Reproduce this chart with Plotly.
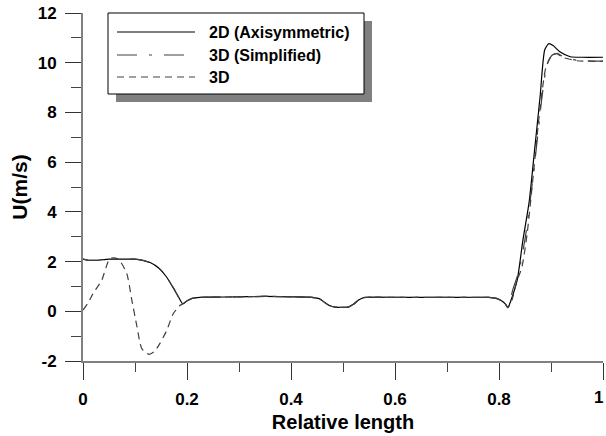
import plotly.graph_objects as go

# ---------------- data ----------------
x_2d = [0, 0.01, 0.025, 0.05, 0.08, 0.1, 0.115, 0.13, 0.145, 0.16, 0.172, 0.183, 0.192,
        0.2, 0.21, 0.225, 0.25, 0.3, 0.35, 0.4, 0.44, 0.455, 0.465, 0.475, 0.485, 0.51,
        0.52, 0.53, 0.54, 0.6, 0.7, 0.78, 0.795, 0.805, 0.812, 0.817, 0.825, 0.835,
        0.846, 0.858, 0.868, 0.879, 0.888, 0.896, 0.904, 0.917, 0.937, 0.96, 1.0]
y_2d = [2.1, 2.05, 2.05, 2.1, 2.1, 2.1, 2.05, 1.95, 1.75, 1.4, 1.0, 0.6, 0.3,
        0.42, 0.52, 0.56, 0.57, 0.58, 0.6, 0.58, 0.56, 0.5, 0.35, 0.22, 0.17, 0.17,
        0.28, 0.45, 0.55, 0.56, 0.56, 0.56, 0.52, 0.42, 0.3, 0.15, 0.56, 1.25,
        2.86, 4.4, 6.4, 8.63, 10.52, 10.77, 10.69, 10.44, 10.24, 10.22, 10.22]

x_3ds = [0, 0.01, 0.025, 0.05, 0.08, 0.1, 0.115, 0.13, 0.145, 0.16, 0.172, 0.183, 0.192,
         0.2, 0.21, 0.225, 0.25, 0.3, 0.35, 0.4, 0.44, 0.455, 0.465, 0.475, 0.485, 0.51,
         0.52, 0.53, 0.54, 0.6, 0.7, 0.78, 0.795, 0.805, 0.812, 0.817, 0.827, 0.838,
         0.85, 0.862, 0.872, 0.882, 0.892, 0.902, 0.912, 0.925, 0.95, 1.0]
y_3ds = [2.1, 2.05, 2.05, 2.1, 2.1, 2.1, 2.05, 1.95, 1.75, 1.4, 1.0, 0.6, 0.3,
         0.42, 0.52, 0.56, 0.57, 0.58, 0.6, 0.58, 0.56, 0.5, 0.35, 0.22, 0.17, 0.17,
         0.28, 0.45, 0.55, 0.56, 0.56, 0.56, 0.52, 0.42, 0.3, 0.15, 0.9, 1.6,
         2.9, 4.8, 6.6, 8.5, 9.9, 10.3, 10.38, 10.22, 10.1, 10.06]

x_3d = [0, 0.01, 0.019, 0.036, 0.052, 0.068, 0.084, 0.094, 0.104, 0.113, 0.127, 0.138,
        0.148, 0.161, 0.174, 0.187, 0.192, 0.2, 0.21, 0.225, 0.25, 0.3, 0.35, 0.4, 0.44,
        0.455, 0.465, 0.475, 0.485, 0.51, 0.52, 0.53, 0.54, 0.6, 0.7, 0.78, 0.795,
        0.805, 0.812, 0.817, 0.825, 0.833, 0.844, 0.854, 0.866, 0.878, 0.89, 0.9,
        0.91, 0.925, 0.95, 1.0]
y_3d = [0.05, 0.35, 0.7, 1.25, 2.13, 2.1, 1.53, 0.44, -0.64, -1.5, -1.73, -1.6,
        -1.29, -0.77, -0.08, 0.24, 0.3, 0.42, 0.52, 0.56, 0.57, 0.58, 0.6, 0.58, 0.56,
        0.5, 0.35, 0.22, 0.17, 0.17, 0.28, 0.45, 0.55, 0.56, 0.56, 0.56, 0.52,
        0.42, 0.3, 0.15, 0.45, 1.13, 1.77, 3.1, 5.5, 8.0, 9.8, 10.25,
        10.36, 10.2, 10.08, 10.05]

series_names = ["2D (Axisymmetric)", "3D (Simplified)", "3D"]
series_dash = ["solid", "20px,12px,3px,12px", "7px,5px"]
series_color = ["#000000", "#404040", "#404040"]

x_ticks = [0, 0.2, 0.4, 0.6, 0.8, 1]
x_ticklabels = ["0", "0.2", "0.4", "0.6", "0.8", "1"]
y_ticks = [-2, 0, 2, 4, 6, 8, 10, 12]
y_ticklabels = ["-2", "0", "2", "4", "6", "8", "10", "12"]

# ---------------- layout helpers ----------------
W, H = 606, 436
PL, PR, PT, PB = 83, 603, 13, 361   # plot-area edges in page pixels
ML, MT = PL, PT
MR = W - PR
MB = H - PB
PW, PH = PR - PL, PB - PT


def px(xp):
    return (xp - PL) / PW


def py(yp):
    return (PB - yp) / PH


FONT = "Liberation Sans, Arial, sans-serif"
TICKFONT = dict(family=FONT, size=17, color="black", weight="bold")

fig = go.Figure()
for xs, ys, name, dash, col in zip([x_2d, x_3ds, x_3d], [y_2d, y_3ds, y_3d],
                                   series_names, series_dash, series_color):
    fig.add_trace(go.Scatter(x=xs, y=ys, mode="lines", name=name,
                             line=dict(color=col, width=1.2, dash=dash, shape="spline",
                                       smoothing=0.6),
                             showlegend=False))

axis_common = dict(showline=True, linecolor="#808080", linewidth=2, showgrid=False,
                   zeroline=False, ticks="outside", tickcolor="#333333", tickwidth=1.3,
                   tickfont=TICKFONT, mirror=False, automargin=False,
                   ticklabeloverflow="allow")

# last x tick label is drawn as an annotation so it stays inside the page edge
fig.update_xaxes(range=[0, 1], tickvals=x_ticks, ticktext=x_ticklabels[:-1] + [""],
                 ticklen=17, ticklabelstandoff=5,
                 minor=dict(dtick=0.1, ticklen=9, ticks="outside", tickcolor="#444444",
                            tickwidth=1.2),
                 title=dict(text="Relative length", standoff=7,
                            font=dict(family=FONT, size=20, color="black", weight="bold")),
                 **axis_common)
fig.update_yaxes(range=[-2, 12], tickvals=y_ticks, ticktext=y_ticklabels, ticklen=16,
                 ticklabelstandoff=5,
                 minor=dict(dtick=1, ticklen=10, ticks="outside", tickcolor="#444444",
                            tickwidth=1.2),
                 title=dict(text="U(m/s)", standoff=4,
                            font=dict(family=FONT, size=21, color="black", weight="bold")),
                 **axis_common)

# ---------------- manual legend ----------------
shapes = []
shapes.append(dict(type="rect", xref="paper", yref="paper", x0=px(116), x1=px(372),
                   y0=py(102), y1=py(21), fillcolor="#808080", line=dict(width=0),
                   layer="above"))
shapes.append(dict(type="rect", xref="paper", yref="paper", x0=px(108), x1=px(364),
                   y0=py(94), y1=py(13), fillcolor="white",
                   line=dict(color="black", width=1), layer="above"))
rows = [32, 55, 77]
annotations = []
for r, name, dash, col in zip(rows, series_names, series_dash, series_color):
    shapes.append(dict(type="line", xref="paper", yref="paper", x0=px(117), x1=px(195),
                       y0=py(r), y1=py(r), line=dict(color=col, width=1.2, dash=dash),
                       layer="above"))
    annotations.append(dict(xref="paper", yref="paper", x=px(207), y=py(r), text=name,
                            showarrow=False, xanchor="left", yanchor="middle",
                            font=dict(family=FONT, size=16, color="black", weight="bold")))

annotations.append(dict(xref="paper", yref="paper", x=px(605), y=py(398),
                        text=x_ticklabels[-1], showarrow=False, xanchor="right",
                        yanchor="middle", font=TICKFONT))

fig.update_layout(width=W, height=H, margin=dict(l=ML, r=MR, t=MT, b=MB),
                  plot_bgcolor="white", paper_bgcolor="white",
                  shapes=shapes, annotations=annotations, showlegend=False)

fig.write_html("out.html", config={"displayModeBar": False},
               post_script="document.body.style.margin='0';document.body.style.overflow='hidden';")
